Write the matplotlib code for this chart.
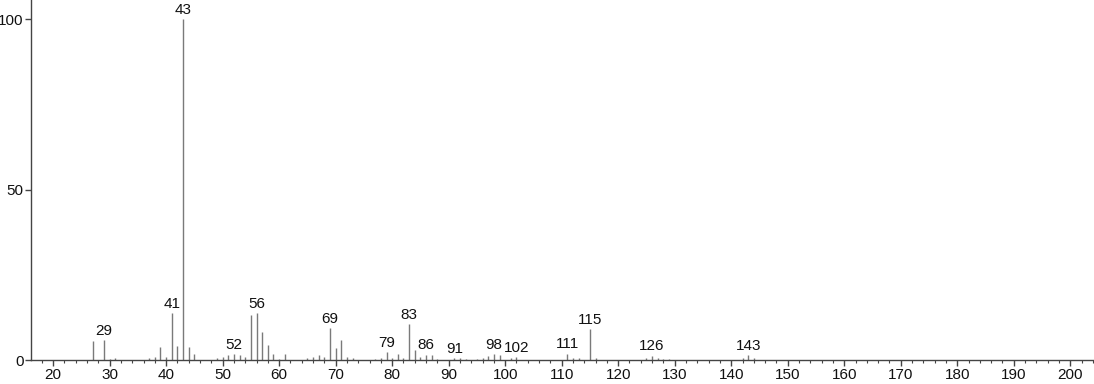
import matplotlib
matplotlib.use("Agg")
import matplotlib.pyplot as plt

plt.rcParams['font.family'] = ['Liberation Sans', 'DejaVu Sans']

mz = [27, 29, 30, 31, 37, 38, 39, 40, 41, 42, 43, 44, 45, 49, 50, 51, 52, 53, 54,
      55, 56, 57, 58, 59, 60, 61, 65, 66, 67, 68, 69, 70, 71, 72, 73, 77, 78, 79,
      80, 81, 82, 83, 84, 85, 86, 87, 88, 91, 92, 93, 95, 96, 97, 98, 99, 101, 102,
      111, 112, 113, 115, 116, 125, 126, 127, 128, 129, 142, 143, 144]
intensity = [5.6, 5.8, 0.4, 0.6, 0.6, 0.8, 3.7, 1.0, 13.7, 4.2, 100, 3.7, 1.9, 0.5, 0.8, 1.4, 1.8, 1.4, 0.8,
             13.3, 13.7, 8.1, 4.5, 1.7, 0.4, 1.7, 0.5, 0.8, 1.4, 0.8, 9.5, 3.4, 5.8, 0.8, 0.5, 0.4, 0.5, 2.4,
             0.5, 1.9, 0.5, 10.5, 2.9, 0.8, 1.6, 1.6, 0.4, 0.7, 0.5, 0.4, 0.4, 0.7, 1.3, 1.8, 1.4, 0.5, 0.8,
             1.9, 0.5, 0.5, 9.0, 0.6, 0.5, 1.3, 0.7, 0.4, 0.4, 0.7, 1.4, 0.5]
labeled = [29, 41, 43, 52, 56, 69, 79, 83, 86, 91, 98, 102, 111, 115, 126, 143]
xticks_major = list(range(20, 201, 10))
yticks = [0, 50, 100]

W, H = 1094, 384
fig = plt.figure(figsize=(W / 100, H / 100), dpi=100)
ax = fig.add_axes([30.5 / W, 24 / H, 1 - 30.5 / W, 1 - 24 / H])

ax.vlines(mz, 0, intensity, colors='#7a7a7a', linewidth=1.0)

lookup = dict(zip(mz, intensity))
for m in labeled:
    ax.annotate(str(m), (m, lookup[m]), xytext=(0, 1.5), textcoords='offset points',
                ha='center', va='bottom', fontsize=11, color='#111111')

ax.set_xlim(16, 204.2)
ax.set_ylim(0, 105.6)
ax.set_xticks(xticks_major)
ax.set_xticks(list(range(18, 205, 2)), minor=True)
ax.set_yticks(yticks)
ax.set_yticklabels([str(v) for v in yticks])

for s in ['top', 'right']:
    ax.spines[s].set_visible(False)
for s in ['left', 'bottom']:
    ax.spines[s].set_color('#444444')
    ax.spines[s].set_linewidth(1.0)

ax.tick_params(axis='x', which='major', direction='out', length=4, width=1.0,
               color='#444444', labelsize=11, pad=1.5, labelcolor='#111111')
ax.tick_params(axis='x', which='minor', direction='out', length=2.2, width=0.8, color='#444444')
ax.tick_params(axis='y', which='major', direction='out', length=4, width=1.0,
               color='#444444', labelsize=11, pad=1.0, labelcolor='#111111')

fig.savefig('out.png', dpi=100)
